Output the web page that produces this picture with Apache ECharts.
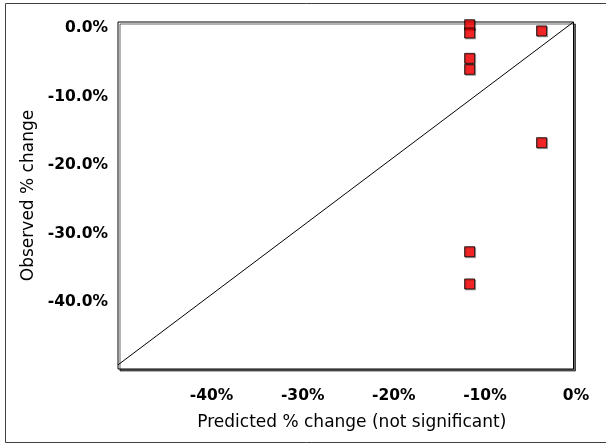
<!DOCTYPE html>
<html>
<head>
<meta charset="utf-8">
<script src="https://cdn.jsdelivr.net/npm/echarts@6/dist/echarts.min.js"></script>
<style>
  html, body { margin: 0; padding: 0; background: #fff; }
  #main { width: 606px; height: 444px; }
</style>
</head>
<body>
<div id="main"></div>
<script>
// predicted vs observed % change
var predicted = [-11.4, -11.4, -11.4, -11.4, -3.5, -3.5, -11.4, -11.4];
var observed = [-0.4, -1.6, -5.3, -6.9, -1.3, -17.6, -33.5, -38.2];
var diagonal = [-50, 0];
var xTicks = [-40, -30, -20, -10, 0];
var yTicks = [0, -10, -20, -30, -40];

var points = predicted.map(function (p, i) { return [p, observed[i]]; });
var lineData = diagonal.map(function (v) { return [v, v]; });

var myChart = echarts.init(document.getElementById('main'));

var tickFont = { fontFamily: 'DejaVu Sans', fontWeight: 'bold', fontSize: 15.5, color: '#000' };
var titleFont = { fontFamily: 'DejaVu Sans', fontSize: 17, color: '#000' };

var option = {
  animation: false,
  backgroundColor: '#fff',
  graphic: [{
    type: 'rect',
    shape: { x: 5.5, y: 3.5, width: 602, height: 439 },
    style: { fill: null, stroke: '#404040', lineWidth: 1 },
    silent: true
  }],
  grid: {
    left: 118, right: 32.5, top: 22, bottom: 75,
    show: true,
    backgroundColor: '#fff',
    borderColor: '#000',
    borderWidth: 1,
    shadowColor: 'rgba(0,0,0,0.6)',
    shadowBlur: 0,
    shadowOffsetX: 2,
    shadowOffsetY: 2
  },
  xAxis: {
    type: 'value',
    min: -50,
    max: 0,
    name: 'Predicted % change (not significant)',
    nameLocation: 'middle',
    nameGap: 45,
    nameTextStyle: Object.assign({ padding: [0, 0, 0, 12] }, titleFont),
    axisLine: { show: false },
    axisTick: { show: false },
    splitLine: { show: false },
    axisLabel: Object.assign({
      customValues: xTicks,
      margin: 19,
      padding: [0, 0, 0, 5],
      formatter: function (v) { return v + '%'; }
    }, tickFont)
  },
  yAxis: {
    type: 'value',
    min: -50.6,
    max: 0,
    name: 'Observed % change',
    nameLocation: 'middle',
    nameRotate: 90,
    nameGap: 80,
    nameTextStyle: titleFont,
    axisLine: { show: false },
    axisTick: { show: false },
    splitLine: { show: false },
    axisLabel: Object.assign({
      customValues: yTicks,
      margin: 10,
      verticalAlign: 'top',
      lineHeight: 12,
      formatter: function (v) { return v.toFixed(1) + '%'; }
    }, tickFont)
  },
  series: [{
    type: 'line',
    data: lineData,
    symbol: 'none',
    silent: true,
    lineStyle: { color: '#000', width: 1 },
    z: 2
  }, {
    type: 'scatter',
    data: points,
    symbol: 'rect',
    symbolSize: 10,
    itemStyle: {
      color: '#ff0000',
      borderColor: '#000',
      borderWidth: 1,
      shadowColor: 'rgba(0,0,0,0.35)',
      shadowBlur: 0,
      shadowOffsetX: 1,
      shadowOffsetY: 1
    },
    z: 3
  }]
};

myChart.setOption(option);
</script>
</body>
</html>
